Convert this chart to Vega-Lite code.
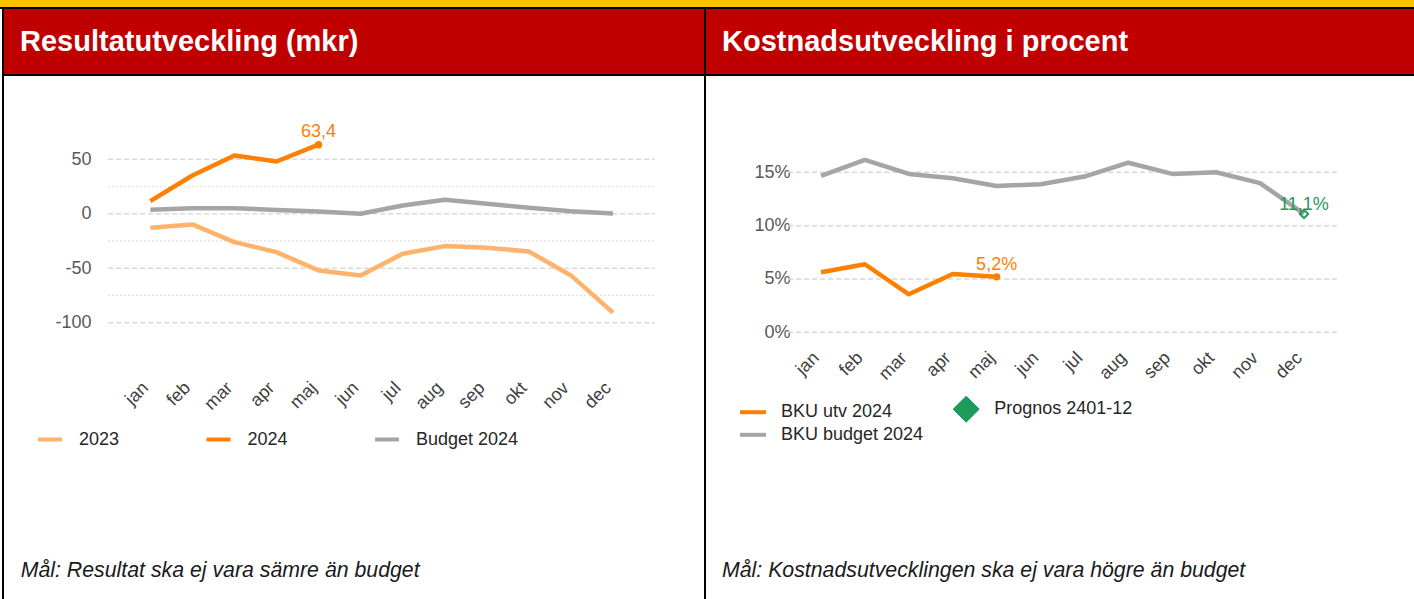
{
  "$schema": "https://vega.github.io/schema/vega-lite/v6.json",
  "background": "black",
  "padding": 0,
  "spacing": 2,
  "config": {
    "font": "Liberation Sans",
    "locale": {"number": {"decimal": ",", "thousands": " ", "grouping": [3], "currency": ["", " kr"], "minus": "-", "percent": "%"}},
    "concat": {"spacing": 2},
    "view": {"stroke": null}
  },
  "vconcat": [
    {"width": 1414, "height": 7, "view": {"fill": "#FFC000", "stroke": null}, "data": {"values": []}, "mark": "point"},
    {
      "spacing": 2,
      "resolve": {"scale": {"color": "independent"}, "legend": {"color": "independent"}},
      "hconcat": [
        {"width": 2, "height": 590, "view": {"fill": "white", "stroke": null}, "data": {"values": []}, "mark": "point"},
        {
          "spacing": 2,
          "bounds": "flush",
          "vconcat": [
            {
              "width": 700, "height": 65,
              "view": {"fill": "#C00000", "stroke": null},
              "title": {"text": "Resultatutveckling (mkr)", "orient": "bottom", "anchor": "start", "frame": "group", "offset": -23.3, "dx": 16, "baseline": "alphabetic", "fontSize": 29, "fontWeight": "bold", "color": "white", "font": "Liberation Sans"},
              "data": {"values": []},
              "mark": "point"
            },
            {
              "width": 700, "height": 523,
              "view": {"fill": "white", "stroke": null},
              "title": {"text": "Mål: Resultat ska ej vara sämre än budget", "orient": "bottom", "anchor": "start", "frame": "group", "offset": -22.3, "dx": 16.7, "baseline": "alphabetic", "fontSize": 21.3, "fontStyle": "italic", "fontWeight": "normal", "color": "#1a1a1a", "font": "Liberation Sans"},
              "data": {"values": [
                {"month": "jan", "m": 0, "series": "2023", "value": -12.8},
                {"month": "feb", "m": 1, "series": "2023", "value": -9.8},
                {"month": "mar", "m": 2, "series": "2023", "value": -26},
                {"month": "apr", "m": 3, "series": "2023", "value": -35.2},
                {"month": "maj", "m": 4, "series": "2023", "value": -52},
                {"month": "jun", "m": 5, "series": "2023", "value": -56.6},
                {"month": "jul", "m": 6, "series": "2023", "value": -36.7},
                {"month": "aug", "m": 7, "series": "2023", "value": -29.7},
                {"month": "sep", "m": 8, "series": "2023", "value": -31.2},
                {"month": "okt", "m": 9, "series": "2023", "value": -34.6},
                {"month": "nov", "m": 10, "series": "2023", "value": -56.6},
                {"month": "dec", "m": 11, "series": "2023", "value": -90.8},
                {"month": "jan", "m": 0, "series": "2024", "value": 11.6},
                {"month": "feb", "m": 1, "series": "2024", "value": 35.1},
                {"month": "mar", "m": 2, "series": "2024", "value": 53.5},
                {"month": "apr", "m": 3, "series": "2024", "value": 48},
                {"month": "maj", "m": 4, "series": "2024", "value": 63.4},
                {"month": "jan", "m": 0, "series": "Budget 2024", "value": 3.7},
                {"month": "feb", "m": 1, "series": "Budget 2024", "value": 5.1},
                {"month": "mar", "m": 2, "series": "Budget 2024", "value": 5.1},
                {"month": "apr", "m": 3, "series": "Budget 2024", "value": 3.5},
                {"month": "maj", "m": 4, "series": "Budget 2024", "value": 2.1},
                {"month": "jun", "m": 5, "series": "Budget 2024", "value": 0},
                {"month": "jul", "m": 6, "series": "Budget 2024", "value": 7.6},
                {"month": "aug", "m": 7, "series": "Budget 2024", "value": 12.8},
                {"month": "sep", "m": 8, "series": "Budget 2024", "value": 9.2},
                {"month": "okt", "m": 9, "series": "Budget 2024", "value": 5.5},
                {"month": "nov", "m": 10, "series": "Budget 2024", "value": 2.4},
                {"month": "dec", "m": 11, "series": "Budget 2024", "value": 0.3}
              ]},
              "layer": [
                {
                  "data": {"values": [{"value": 50}, {"value": 0}, {"value": -50}, {"value": -100}]},
                  "mark": {"type": "rule", "color": "#D9D9D9", "strokeWidth": 1.5, "strokeDash": [5, 3]},
                  "encoding": {
                    "y": {"field": "value", "type": "quantitative",
                      "scale": {"type": "linear", "domain": [-100, 50], "range": [246.7, 83.3], "nice": false, "zero": false},
                      "axis": {"orient": "left", "offset": -87, "values": [-100, -50, 0, 50], "format": "d", "labelFontSize": 18, "labelColor": "#595959", "labelPadding": 0, "ticks": false, "tickSize": 0, "domain": false, "grid": false, "labelFlush": false, "labelOverlap": false, "labelBound": false, "title": null, "labelAlign": "right", "labelBaseline": "middle", "labelFont": "Liberation Sans"}},
                    "x": {"datum": -1, "type": "quantitative",
                      "scale": {"type": "linear", "domain": [0, 11], "range": [146.3, 609], "nice": false, "zero": false},
                      "axis": {"orient": "bottom", "offset": -214, "labelOffset": -5, "values": [0, 1, 2, 3, 4, 5, 6, 7, 8, 9, 10, 11], "labelExpr": "['jan','feb','mar','apr','maj','jun','jul','aug','sep','okt','nov','dec'][datum.value]", "labelAngle": -45, "labelAlign": "right", "labelBaseline": "middle", "labelFontSize": 18, "labelColor": "#404040", "labelPadding": 0, "ticks": false, "tickSize": 0, "domain": false, "grid": false, "labelFlush": false, "labelOverlap": false, "labelBound": false, "title": null, "labelFont": "Liberation Sans"}},
                    "x2": {"datum": 12}
                  }
                },
                {
                  "data": {"values": [{"value": 25}, {"value": -25}, {"value": -75}]},
                  "mark": {"type": "rule", "color": "#D9D9D9", "strokeWidth": 1.3, "strokeDash": [1.5, 2.5]},
                  "encoding": {
                    "y": {"field": "value", "type": "quantitative"},
                    "x": {"datum": -1, "type": "quantitative"},
                    "x2": {"datum": 12}
                  }
                },
                {
                  "mark": {"type": "line", "strokeWidth": 4.5, "strokeJoin": "round"},
                  "encoding": {
                    "x": {"field": "m", "type": "quantitative"},
                    "y": {"field": "value", "type": "quantitative"},
                    "color": {"field": "series", "type": "nominal",
                      "scale": {"domain": ["2023", "2024", "Budget 2024"], "range": ["#FFB26B", "#FF8000", "#A5A5A5"]},
                      "legend": {"orient": "none", "legendX": 32, "legendY": 416.5, "direction": "horizontal", "columns": 3, "gridAlign": "all", "columnPadding": 16.5, "symbolType": "stroke", "symbolSize": 576, "symbolStrokeWidth": 4, "labelFontSize": 18, "labelColor": "#262626", "labelOffset": 15, "labelLimit": 300, "title": null, "padding": 0, "labelFont": "Liberation Sans"}}
                  }
                },
                {
                  "transform": [{"filter": "datum.series === '2024' && datum.m === 4"}],
                  "mark": {"type": "circle", "color": "#FF8000", "size": 55, "opacity": 1},
                  "encoding": {
                    "x": {"field": "m", "type": "quantitative"},
                    "y": {"field": "value", "type": "quantitative"}
                  }
                },
                {
                  "transform": [{"filter": "datum.series === '2024' && datum.m === 4"}],
                  "mark": {"type": "text", "color": "#FF8000", "fontSize": 18, "dy": -7.5, "align": "center", "baseline": "alphabetic", "font": "Liberation Sans"},
                  "encoding": {
                    "x": {"field": "m", "type": "quantitative"},
                    "y": {"field": "value", "type": "quantitative"},
                    "text": {"field": "value", "type": "quantitative", "format": ".1f"}
                  }
                }
              ]
            }
          ]
        },
        {
          "spacing": 2,
          "bounds": "flush",
          "vconcat": [
            {
              "width": 708, "height": 65,
              "view": {"fill": "#C00000", "stroke": null},
              "title": {"text": "Kostnadsutveckling i procent", "orient": "bottom", "anchor": "start", "frame": "group", "offset": -23.3, "dx": 16, "baseline": "alphabetic", "fontSize": 29, "fontWeight": "bold", "color": "white", "font": "Liberation Sans"},
              "data": {"values": []},
              "mark": "point"
            },
            {
              "width": 708, "height": 523,
              "view": {"fill": "white", "stroke": null},
              "title": {"text": "Mål: Kostnadsutvecklingen ska ej vara högre än budget", "orient": "bottom", "anchor": "start", "frame": "group", "offset": -22.3, "dx": 16, "baseline": "alphabetic", "fontSize": 21.3, "fontStyle": "italic", "fontWeight": "normal", "color": "#1a1a1a", "font": "Liberation Sans"},
              "data": {"values": [
                {"month": "jan", "m": 0, "series": "BKU utv 2024", "value": 0.0563},
                {"month": "feb", "m": 1, "series": "BKU utv 2024", "value": 0.0638},
                {"month": "mar", "m": 2, "series": "BKU utv 2024", "value": 0.0356},
                {"month": "apr", "m": 3, "series": "BKU utv 2024", "value": 0.0547},
                {"month": "maj", "m": 4, "series": "BKU utv 2024", "value": 0.052},
                {"month": "jan", "m": 0, "series": "BKU budget 2024", "value": 0.1466},
                {"month": "feb", "m": 1, "series": "BKU budget 2024", "value": 0.1616},
                {"month": "mar", "m": 2, "series": "BKU budget 2024", "value": 0.1485},
                {"month": "apr", "m": 3, "series": "BKU budget 2024", "value": 0.1445},
                {"month": "maj", "m": 4, "series": "BKU budget 2024", "value": 0.1372},
                {"month": "jun", "m": 5, "series": "BKU budget 2024", "value": 0.1388},
                {"month": "jul", "m": 6, "series": "BKU budget 2024", "value": 0.146},
                {"month": "aug", "m": 7, "series": "BKU budget 2024", "value": 0.159},
                {"month": "sep", "m": 8, "series": "BKU budget 2024", "value": 0.1485},
                {"month": "okt", "m": 9, "series": "BKU budget 2024", "value": 0.15},
                {"month": "nov", "m": 10, "series": "BKU budget 2024", "value": 0.1398},
                {"month": "dec", "m": 11, "series": "BKU budget 2024", "value": 0.111},
                {"month": "dec", "m": 11, "series": "Prognos 2401-12", "value": 0.111}
              ]},
              "layer": [
                {
                  "data": {"values": [{"value": 0}, {"value": 0.05}, {"value": 0.1}, {"value": 0.15}]},
                  "mark": {"type": "rule", "color": "#D9D9D9", "strokeWidth": 1.5, "strokeDash": [5, 3]},
                  "encoding": {
                    "y": {"field": "value", "type": "quantitative",
                      "scale": {"type": "linear", "domain": [0, 0.15], "range": [256.3, 96.3], "nice": false, "zero": false},
                      "axis": {"orient": "left", "offset": -84, "values": [0, 0.05, 0.1, 0.15], "format": ".0%", "labelFontSize": 18, "labelColor": "#595959", "labelPadding": 0, "ticks": false, "tickSize": 0, "domain": false, "grid": false, "labelFlush": false, "labelOverlap": false, "labelBound": false, "title": null, "labelAlign": "right", "labelBaseline": "middle", "labelFont": "Liberation Sans"}},
                    "x": {"datum": -0.75, "type": "quantitative",
                      "scale": {"type": "linear", "domain": [0, 11], "range": [115, 598], "nice": false, "zero": false},
                      "axis": {"orient": "bottom", "offset": -244, "labelOffset": -5, "values": [0, 1, 2, 3, 4, 5, 6, 7, 8, 9, 10, 11], "labelExpr": "['jan','feb','mar','apr','maj','jun','jul','aug','sep','okt','nov','dec'][datum.value]", "labelAngle": -45, "labelAlign": "right", "labelBaseline": "middle", "labelFontSize": 18, "labelColor": "#404040", "labelPadding": 0, "ticks": false, "tickSize": 0, "domain": false, "grid": false, "labelFlush": false, "labelOverlap": false, "labelBound": false, "title": null, "labelFont": "Liberation Sans"}},
                    "x2": {"datum": 11.75}
                  }
                },
                {
                  "transform": [{"filter": "datum.series !== 'Prognos 2401-12'"}],
                  "mark": {"type": "line", "strokeWidth": 4.5, "strokeJoin": "round"},
                  "encoding": {
                    "x": {"field": "m", "type": "quantitative"},
                    "y": {"field": "value", "type": "quantitative"},
                    "color": {"field": "series", "type": "nominal",
                      "scale": {"domain": ["BKU utv 2024", "Prognos 2401-12", "BKU budget 2024"], "range": ["#FF8000", "#1E9A5A", "#A5A5A5"]},
                      "legend": {"orient": "none", "legendX": 38, "legendY": 391.2, "direction": "horizontal", "columns": 2, "gridAlign": "all", "columnPadding": 27.2, "rowPadding": 1.6, "symbolType": "stroke", "symbolSize": 676, "symbolStrokeWidth": 4, "labelFontSize": 18, "labelColor": "#262626", "labelOffset": 19, "labelLimit": 300, "title": null, "padding": 0, "labelFont": "Liberation Sans",
                        "encode": {"symbols": {"update": {
                          "shape": {"signal": "datum.value === 'Prognos 2401-12' ? 'diamond' : 'stroke'"},
                          "fill": {"signal": "datum.value === 'Prognos 2401-12' ? '#1E9A5A' : 'transparent'"},
                          "strokeWidth": {"signal": "datum.value === 'Prognos 2401-12' ? 1 : 4"}
                        }}}}}
                  }
                },
                {
                  "transform": [{"filter": "datum.series === 'BKU utv 2024' && datum.m === 4"}],
                  "mark": {"type": "circle", "color": "#FF8000", "size": 55, "opacity": 1},
                  "encoding": {
                    "x": {"field": "m", "type": "quantitative"},
                    "y": {"field": "value", "type": "quantitative"}
                  }
                },
                {
                  "transform": [{"filter": "datum.series === 'BKU utv 2024' && datum.m === 4"}],
                  "mark": {"type": "text", "color": "#FF8000", "fontSize": 18, "dy": -6.7, "align": "center", "baseline": "alphabetic", "font": "Liberation Sans"},
                  "encoding": {
                    "x": {"field": "m", "type": "quantitative"},
                    "y": {"field": "value", "type": "quantitative"},
                    "text": {"field": "value", "type": "quantitative", "format": ".1%"}
                  }
                },
                {
                  "transform": [{"filter": "datum.series === 'Prognos 2401-12'"}],
                  "mark": {"type": "point", "shape": "diamond", "filled": false, "strokeWidth": 2, "size": 70, "opacity": 1},
                  "encoding": {
                    "x": {"field": "m", "type": "quantitative"},
                    "y": {"field": "value", "type": "quantitative"},
                    "color": {"field": "series", "type": "nominal"}
                  }
                },
                {
                  "transform": [{"filter": "datum.series === 'Prognos 2401-12'"}],
                  "mark": {"type": "text", "color": "#1E9A5A", "fontSize": 18, "dy": -4, "align": "center", "baseline": "alphabetic", "font": "Liberation Sans"},
                  "encoding": {
                    "x": {"field": "m", "type": "quantitative"},
                    "y": {"field": "value", "type": "quantitative"},
                    "text": {"field": "value", "type": "quantitative", "format": ".1%"}
                  }
                }
              ]
            }
          ]
        }
      ]
    }
  ]
}
